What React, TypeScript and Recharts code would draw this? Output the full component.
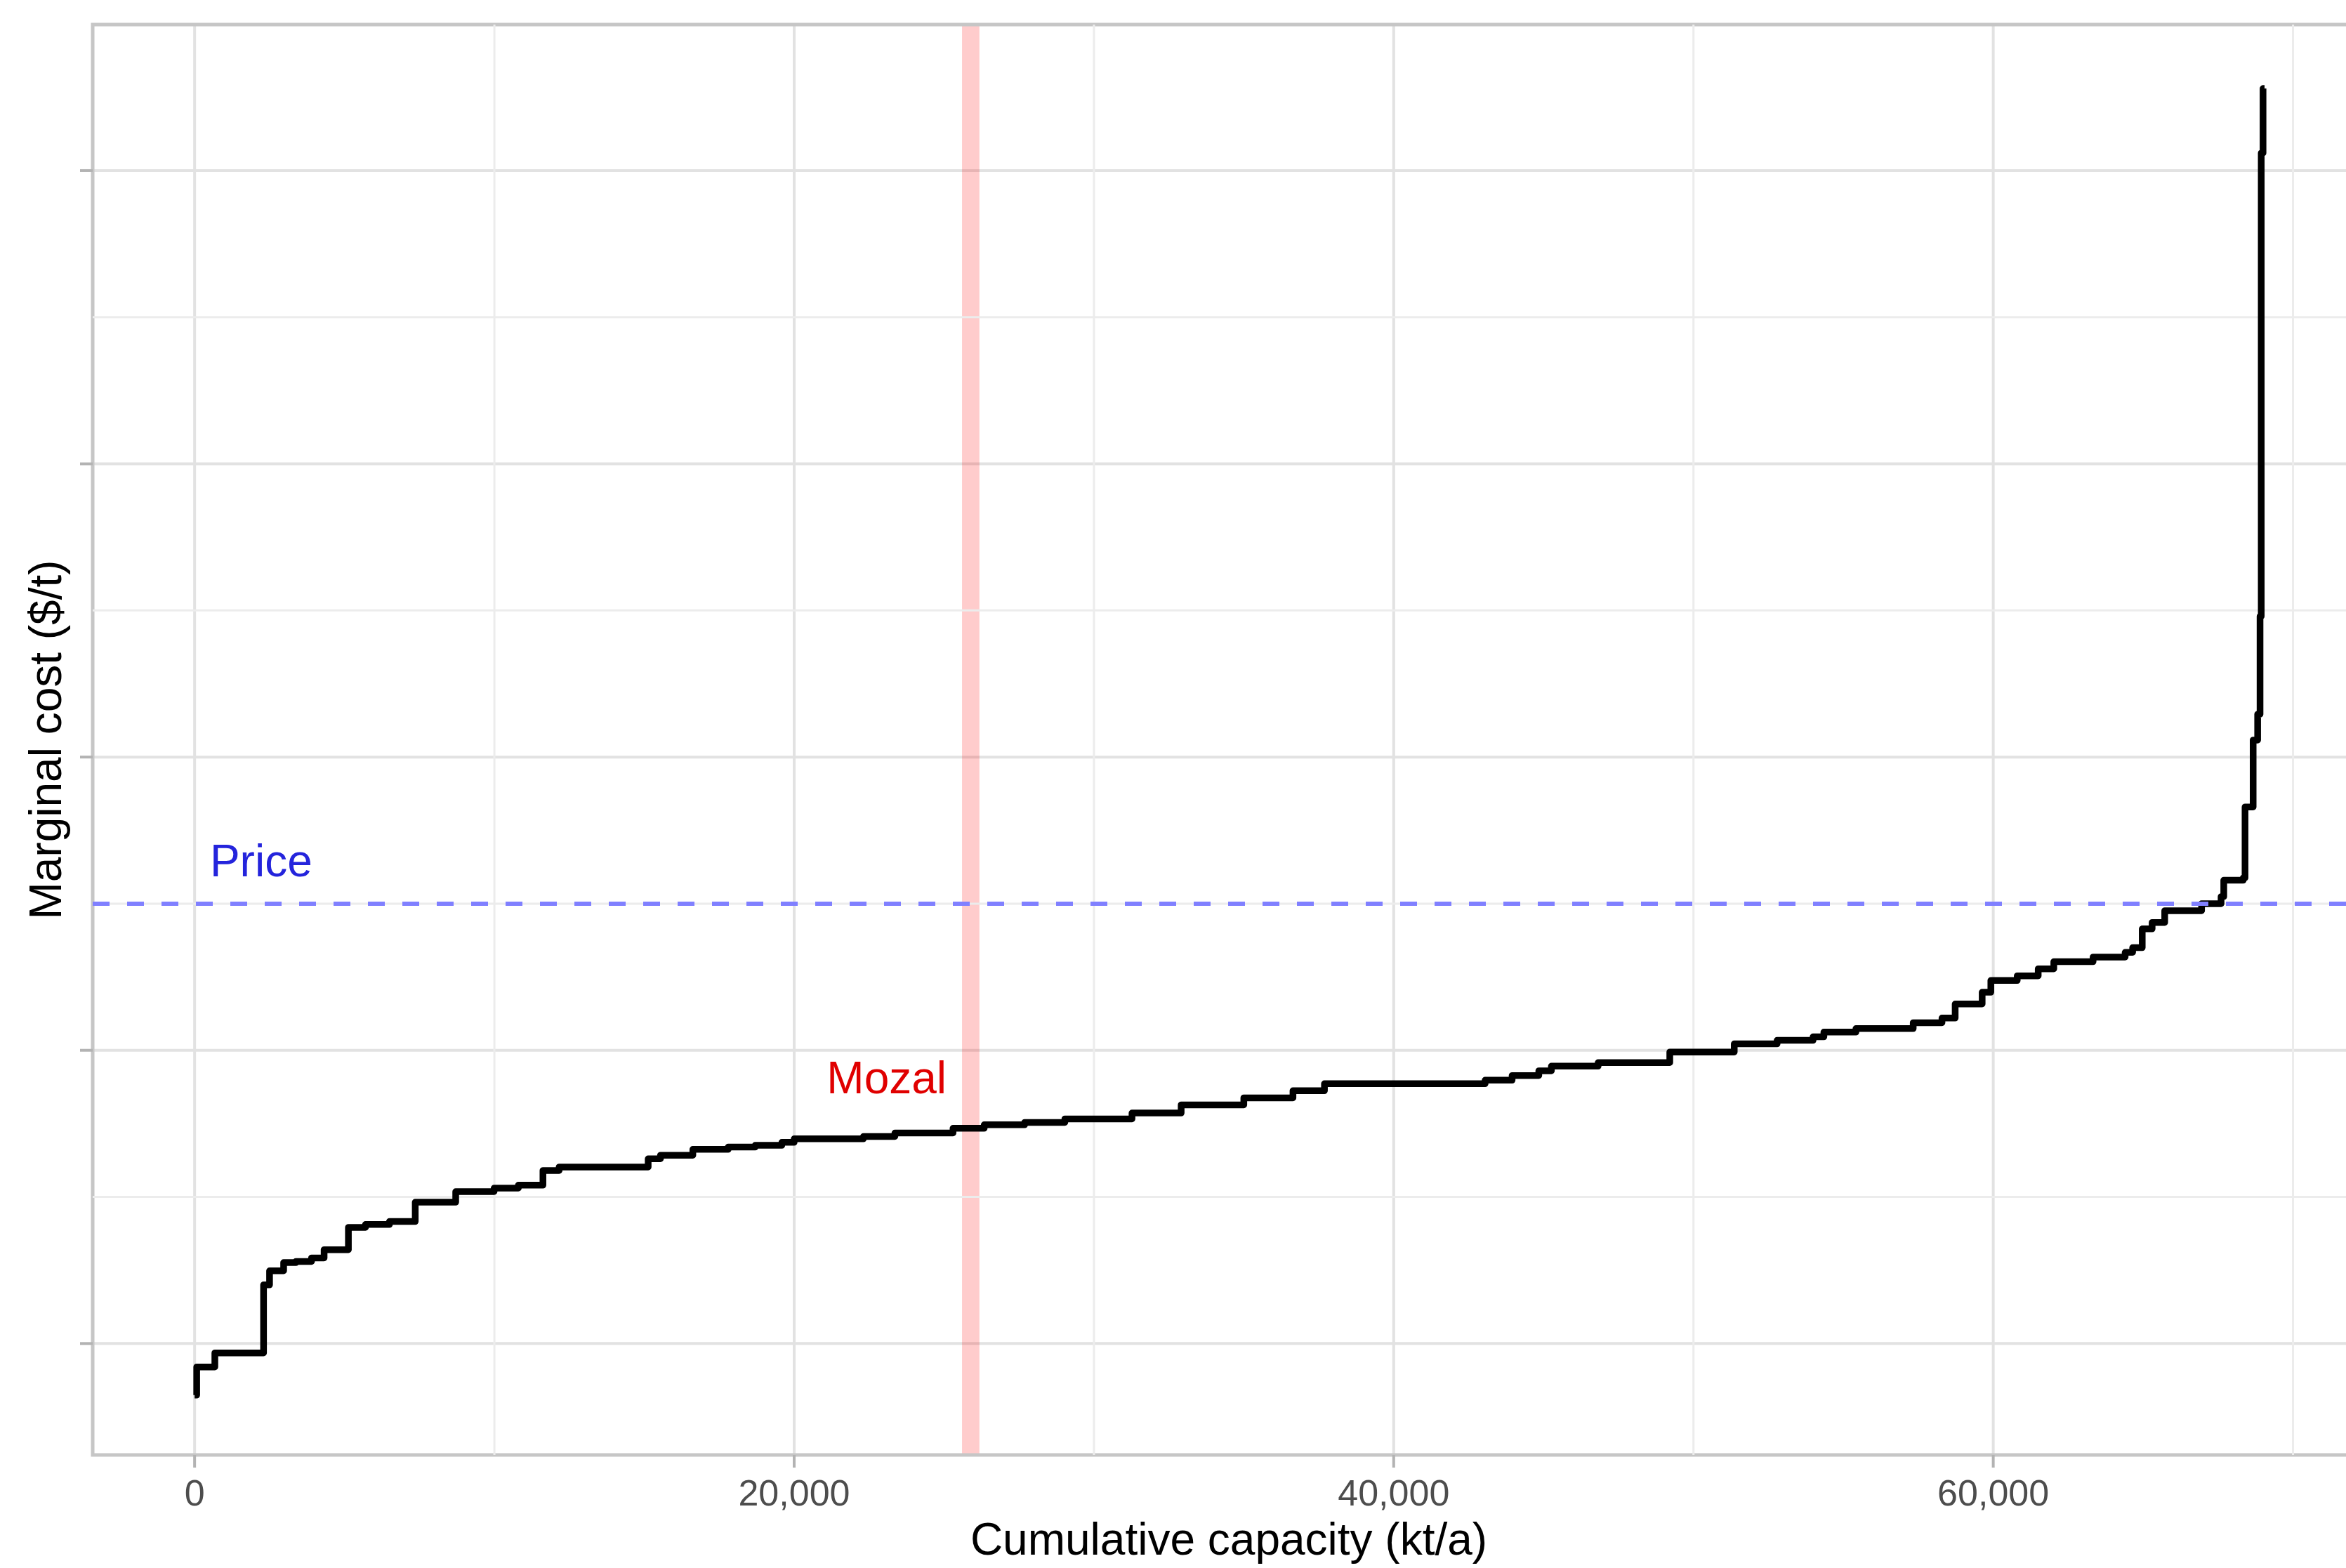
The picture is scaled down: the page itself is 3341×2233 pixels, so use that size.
import React from 'react';
import {
  LineChart,
  Line,
  XAxis,
  YAxis,
  CartesianGrid,
  ReferenceLine,
  ReferenceArea,
  ReferenceDot,
} from 'recharts';

// Cumulative capacity (kt/a) at the start of each step
const capacity = [
  0, 70, 675, 2300, 2500, 2970, 3380, 3900, 4320, 5130,
  5700, 6500, 7360, 8710, 9990, 10800, 11620, 12160, 15130, 15540,
  16620, 17800, 18700, 19590, 20000, 22310, 23360, 25300, 26340, 27690,
  29030, 31270, 32910, 35000, 36640, 37690, 43050, 43950, 44840, 45260,
  46820, 49210, 51360, 52790, 53990, 54350, 55420, 57330, 58290, 58730,
  59630, 59920, 60800, 61500, 62020, 63330, 64400, 64650, 64970, 65300,
  65720, 66950, 67600, 67690, 68340, 68400, 68670, 68820, 68900, 68940,
  69000, 69050,
];

// Marginal cost ($/t) of each step
const marginalCost = [
  912, 960, 984, 1100, 1124, 1138, 1140, 1146, 1160, 1198,
  1203, 1208, 1241, 1259, 1265, 1270, 1295, 1301, 1315, 1321,
  1331, 1335, 1338, 1343, 1349, 1353, 1359, 1367, 1373, 1377,
  1383, 1393, 1407, 1419, 1431, 1443, 1449, 1457, 1465, 1473,
  1479, 1497, 1511, 1517, 1523, 1531, 1537, 1547, 1555, 1579,
  1599, 1619, 1627, 1639, 1651, 1659, 1667, 1675, 1707, 1718,
  1738, 1750, 1762, 1790, 1794, 1915, 2029, 2073, 2240, 3030,
  3140, 3140,
];

const xTicks = [0, 20000, 40000, 60000];
const xMinorGrid = [10000, 30000, 50000, 70000];
const yTicks = [1000, 1500, 2000, 2500, 3000];
const yMinorGrid = [1250, 1750, 2250, 2750];

const price = 1750;
const priceLabel = { text: 'Price', x: 2218, y: 1824 };
const mozalBand = { x1: 25600, x2: 26180 };
const mozalLabel = { text: 'Mozal', x: 23085, y: 1454 };

const xDomain = [-3400, 72400];
const yDomain = [810, 3249];

const data = capacity.map((c, i) => ({ cap: c, cost: marginalCost[i] }));

const FONT = '"Liberation Sans", Arial, Helvetica, sans-serif';
const fmt = (v: number) => v.toLocaleString('en-US');

export default function App() {
  return (
    <div
      style={{
        position: 'fixed',
        left: 0,
        top: 0,
        width: 3341,
        height: 2233,
        overflow: 'hidden',
        background: '#ffffff',
        fontFamily: FONT,
      }}
    >
      <LineChart
        width={3380}
        height={2233}
        data={data}
        margin={{ top: 35, right: 12, bottom: 0, left: 0 }}
        style={{ fontFamily: FONT }}
      >
        <CartesianGrid stroke="#e2e2e2" strokeWidth={4} />
        {xMinorGrid.map((v) => (
          <ReferenceLine key={'vx' + v} x={v} stroke="#ececec" strokeWidth={3} />
        ))}
        {yMinorGrid.map((v) => (
          <ReferenceLine key={'hy' + v} y={v} stroke="#ececec" strokeWidth={3} />
        ))}
        <XAxis
          dataKey="cap"
          type="number"
          domain={xDomain}
          allowDataOverflow
          ticks={xTicks}
          tickFormatter={fmt}
          height={161}
          axisLine={false}
          tickLine={{ stroke: '#b3b3b3', strokeWidth: 4 }}
          tickSize={18}
          tickMargin={17}
          tick={{ fill: '#4d4d4d', fontSize: 52, fontFamily: FONT }}
          label={{
            value: 'Cumulative capacity (kt/a)',
            position: 'insideBottom',
            offset: 19,
            fill: '#000000',
            fontSize: 64,
            fontFamily: FONT,
          }}
        />
        <YAxis
          type="number"
          domain={yDomain}
          allowDataOverflow
          ticks={yTicks}
          width={132}
          axisLine={false}
          tickLine={{ stroke: '#b3b3b3', strokeWidth: 4 }}
          tickSize={18}
          tick={() => <g />}
          label={{
            value: 'Marginal cost ($/t)',
            angle: -90,
            position: 'center',
            dx: -2,
            fill: '#000000',
            fontSize: 64,
            fontFamily: FONT,
          }}
        />
        <Line
          type="stepAfter"
          dataKey="cost"
          stroke="#000000"
          strokeWidth={9.5}
          strokeLinejoin="round"
          dot={false}
          activeDot={false}
          isAnimationActive={false}
        />
        <ReferenceArea
          x1={mozalBand.x1}
          x2={mozalBand.x2}
          fill="#ff0000"
          fillOpacity={0.2}
          stroke="none"
        />
        <ReferenceLine
          y={price}
          stroke="#8080ff"
          strokeWidth={6}
          strokeDasharray="24 25"
        />
        <ReferenceDot
          x={priceLabel.x}
          y={priceLabel.y}
          r={0}
          fill="none"
          stroke="none"
          label={{
            value: priceLabel.text,
            position: 'center',
            fill: '#2424dc',
            fontSize: 64,
            fontFamily: FONT,
          }}
        />
        <ReferenceDot
          x={mozalLabel.x}
          y={mozalLabel.y}
          r={0}
          fill="none"
          stroke="none"
          label={{
            value: mozalLabel.text,
            position: 'center',
            fill: '#e00000',
            fontSize: 64,
            fontFamily: FONT,
          }}
        />
        <ReferenceArea
          x1={xDomain[0]}
          x2={xDomain[1]}
          y1={yDomain[0]}
          y2={yDomain[1]}
          fill="none"
          stroke="#c6c6c6"
          strokeWidth={5}
        />
      </LineChart>
    </div>
  );
}
